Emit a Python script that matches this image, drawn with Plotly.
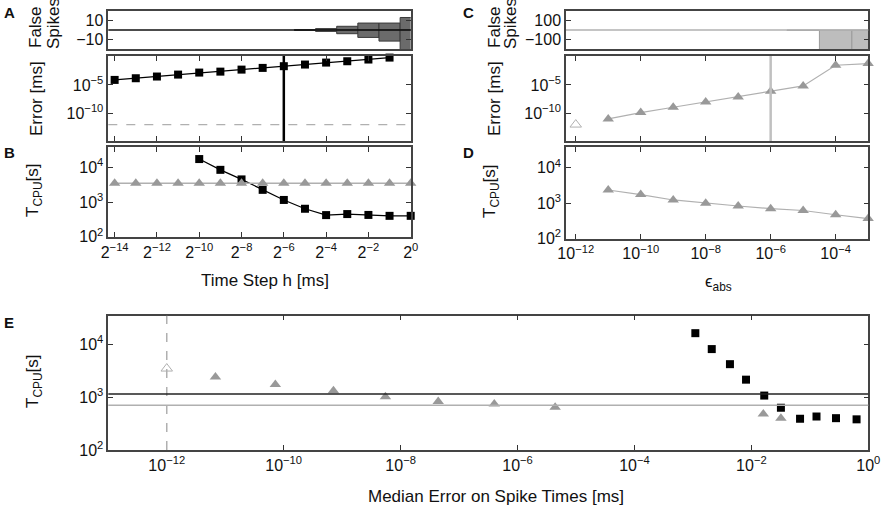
import numpy as np
import plotly.graph_objects as go

W, H = 882, 507
FONT = "Liberation Sans, Arial, sans-serif"
BLACK = "#000000"
GRAY = "#999999"
LGRAY = "#b0b0b0"

# ---- data ----
# A (top): false spikes per bin, bins centred on h = 2^k ms
fs_h_A = [2**-5, 2**-4, 2**-3, 2**-2, 2**-1, 2**0]
fs_extra_A = [0.5, 1.5, 4, 7.5, 7.5, 13.5]
fs_missing_A = [-0.5, -1.5, -4, -8, -12, -25]

# A: error vs time step (fixed step)
h_err = [2**-14, 2**-13, 2**-12, 2**-11, 2**-10, 2**-9, 2**-8,
         2**-7, 2**-6, 2**-5, 2**-4, 2**-3, 2**-2, 2**-1]
err_fixed = [7.6e-5, 1.5e-4, 3.0e-4, 6.6e-4, 1.5e-3, 2.2e-3, 5.0e-3,
             1.0e-2, 2.0e-2, 3.9e-2, 8.7e-2, 0.15, 0.30, 0.66]
h_chosen = 2**-6
err_floor = 1e-12

# B: CPU time vs time step
h_cpu = [2**-10, 2**-9, 2**-8, 2**-7, 2**-6, 2**-5, 2**-4,
         2**-3, 2**-2, 2**-1, 2**0]
tcpu_fixed = [17400, 8500, 4500, 2250, 1150, 640, 420, 450, 425, 400, 400]
h_all = [2**-14, 2**-13, 2**-12, 2**-11, 2**-10, 2**-9, 2**-8, 2**-7,
         2**-6, 2**-5, 2**-4, 2**-3, 2**-2, 2**-1, 2**0]
tcpu_event = [3500, 3500, 3500, 3500, 3500, 3500, 3500, 3500,
              3500, 3500, 3500, 3500, 3500, 3500, 3500]

# C (top): false spikes per decade bin of eps_abs
fs_eps_C = [1e-5, 1e-4, 1e-3]
fs_missing_C = [-4, -300, -300]

# C: error vs eps_abs (adaptive)
eps = [1e-11, 1e-10, 1e-9, 1e-8, 1e-7, 1e-6, 1e-5, 1e-4, 1e-3]
err_adapt = [1.0e-11, 1.3e-10, 1.15e-9, 1.0e-8, 7.6e-8, 7.6e-7, 6.6e-6,
             2.95e-2, 5.75e-2]
eps_chosen = 1e-6
eps_event = 1e-12
err_event = 1e-12

# D: CPU time vs eps_abs
tcpu_adapt = [2350, 1750, 1230, 1000, 830, 700, 620, 470, 365]

# E: CPU time vs median error
e_err_fixed = [1.1e-3, 2.1e-3, 4.3e-3, 8.1e-3, 1.66e-2, 3.2e-2, 6.8e-2,
               0.13, 0.28, 0.63]
e_tcpu_fixed = [16200, 8100, 4200, 2140, 1070, 630, 390, 430, 400, 380]
e_err_adapt = [6.8e-12, 7.2e-11, 7.1e-10, 5.5e-9, 4.4e-8, 4.0e-7, 4.4e-6,
               1.6e-2, 3.2e-2]
e_tcpu_adapt = [2400, 1740, 1320, 1020, 830, 740, 645, 480, 400]
e_err_event = 1e-12
e_tcpu_event = 3470
e_ref_fixed = tcpu_fixed[h_cpu.index(h_chosen)]
e_ref_adapt = tcpu_adapt[eps.index(eps_chosen)]

pow2_ticks = [2**-14, 2**-12, 2**-10, 2**-8, 2**-6, 2**-4, 2**-2, 2**0]
pow2_text = ["2<sup>\u221214</sup>", "2<sup>\u221212</sup>", "2<sup>\u221210</sup>",
             "2<sup>\u22128</sup>", "2<sup>\u22126</sup>", "2<sup>\u22124</sup>",
             "2<sup>\u22122</sup>", "2<sup>0</sup>"]
eps_ticks = [1e-12, 1e-10, 1e-8, 1e-6, 1e-4]
eps_text = ["10<sup>\u221212</sup>", "10<sup>\u221210</sup>", "10<sup>\u22128</sup>",
            "10<sup>\u22126</sup>", "10<sup>\u22124</sup>"]
e_ticks = [1e-12, 1e-10, 1e-8, 1e-6, 1e-4, 1e-2, 1e0]
e_text = ["10<sup>\u221212</sup>", "10<sup>\u221210</sup>", "10<sup>\u22128</sup>",
          "10<sup>\u22126</sup>", "10<sup>\u22124</sup>", "10<sup>\u22122</sup>",
          "10<sup>0</sup>"]
err_ticks = [1e-10, 1e-5]
err_text = ["10<sup>\u221210</sup>", "10<sup>\u22125</sup>"]
t_ticks = [1e2, 1e3, 1e4]
t_text = ["10<sup>2</sup>", "10<sup>3</sup>", "10<sup>4</sup>"]


def dx(a, b):
    return [a / W, b / W]


def dy(top, bottom):
    return [1 - bottom / H, 1 - top / H]


def axis(**kw):
    base = dict(showline=True, linecolor="#444", linewidth=1.5, mirror="ticks",
                ticks="inside", ticklen=5, tickwidth=1.2, tickcolor="#333",
                showgrid=False, zeroline=False, automargin=False,
                tickfont=dict(size=16, color="#111", family=FONT))
    base.update(kw)
    return base


fig = go.Figure()

# ---- A top: false spikes histogram ----
fig.add_trace(go.Bar(x=np.log2(fs_h_A), y=fs_extra_A, width=1, xaxis="x", yaxis="y",
                     marker=dict(color="#6b6b6b", line=dict(color="#3a3a3a", width=1))))
fig.add_trace(go.Bar(x=np.log2(fs_h_A), y=fs_missing_A, width=1, xaxis="x", yaxis="y",
                     marker=dict(color="#6b6b6b", line=dict(color="#3a3a3a", width=1))))

# ---- A: error ----
fig.add_trace(go.Scatter(x=h_err, y=err_fixed, xaxis="x2", yaxis="y2", mode="lines+markers",
                         line=dict(color=BLACK, width=1.2),
                         marker=dict(symbol="square", size=8, color=BLACK), cliponaxis=False))

# ---- B: CPU time ----
fig.add_trace(go.Scatter(x=h_cpu, y=tcpu_fixed, xaxis="x3", yaxis="y3", mode="lines+markers",
                         line=dict(color=BLACK, width=1.2),
                         marker=dict(symbol="square", size=8, color=BLACK), cliponaxis=False))
fig.add_trace(go.Scatter(x=h_all, y=tcpu_event, xaxis="x3", yaxis="y3", mode="lines+markers",
                         line=dict(color=LGRAY, width=1.5),
                         marker=dict(symbol="triangle-up", size=10, color=GRAY), cliponaxis=False))

# ---- C top ----
fig.add_trace(go.Bar(x=np.log10(fs_eps_C), y=fs_missing_C, width=1, xaxis="x4", yaxis="y4",
                     marker=dict(color="#bdbdbd", line=dict(color="#9a9a9a", width=1))))

# ---- C: error ----
fig.add_trace(go.Scatter(x=eps, y=err_adapt, xaxis="x5", yaxis="y5", mode="lines+markers",
                         line=dict(color=LGRAY, width=1.2),
                         marker=dict(symbol="triangle-up", size=10, color=GRAY), cliponaxis=False))
fig.add_trace(go.Scatter(x=[eps_event], y=[err_event], xaxis="x5", yaxis="y5", mode="markers",
                         marker=dict(symbol="triangle-up-open", size=10, color=LGRAY,
                                     line=dict(width=1)), cliponaxis=False))

# ---- D: CPU time ----
fig.add_trace(go.Scatter(x=eps, y=tcpu_adapt, xaxis="x6", yaxis="y6", mode="lines+markers",
                         line=dict(color=LGRAY, width=1.2),
                         marker=dict(symbol="triangle-up", size=10, color=GRAY), cliponaxis=False))

# ---- E ----
fig.add_trace(go.Scatter(x=e_err_fixed, y=e_tcpu_fixed, xaxis="x7", yaxis="y7", mode="markers",
                         marker=dict(symbol="square", size=8, color=BLACK), cliponaxis=False))
fig.add_trace(go.Scatter(x=e_err_adapt, y=e_tcpu_adapt, xaxis="x7", yaxis="y7", mode="markers",
                         marker=dict(symbol="triangle-up", size=10, color=GRAY), cliponaxis=False))
fig.add_trace(go.Scatter(x=[e_err_event], y=[e_tcpu_event], xaxis="x7", yaxis="y7", mode="markers",
                         marker=dict(symbol="triangle-up-open", size=10, color=LGRAY,
                                     line=dict(width=1)), cliponaxis=False))

shapes = [
    dict(type="line", xref="x domain", yref="y", x0=0, x1=1, y0=0, y1=0,
         line=dict(color="#111", width=1.5)),
    dict(type="line", xref="x2 domain", yref="y2", x0=0, x1=1, y0=err_floor, y1=err_floor,
         line=dict(color=LGRAY, width=1.2, dash="dash")),
    dict(type="line", xref="x2", yref="y2 domain", x0=h_chosen, x1=h_chosen, y0=0, y1=1,
         line=dict(color=BLACK, width=2.5)),
    dict(type="line", xref="x4 domain", yref="y4", x0=0, x1=1, y0=0, y1=0,
         line=dict(color=LGRAY, width=1.5)),
    dict(type="line", xref="x5", yref="y5 domain", x0=eps_chosen, x1=eps_chosen, y0=0, y1=1,
         line=dict(color="#c0c0c0", width=2.5)),
    dict(type="line", xref="x7", yref="y7 domain", x0=e_err_event, x1=e_err_event, y0=0, y1=1,
         line=dict(color=LGRAY, width=1.5, dash="dash")),
    dict(type="line", xref="x7 domain", yref="y7", x0=0, x1=1, y0=e_ref_fixed, y1=e_ref_fixed,
         line=dict(color="#222", width=1.5)),
    dict(type="line", xref="x7 domain", yref="y7", x0=0, x1=1, y0=e_ref_adapt, y1=e_ref_adapt,
         line=dict(color=LGRAY, width=1.5)),
]

XA = dx(108.3, 410.7)
XC = dx(566, 868.3)
C_RANGE = [-12.3, -2.995]

fig.update_layout(
    width=W, height=H, margin=dict(l=0, r=0, t=0, b=0, autoexpand=False),
    paper_bgcolor="white", plot_bgcolor="white", showlegend=False,
    barmode="overlay", font=dict(family=FONT, size=16, color="#111"),
    shapes=shapes,
    # A top
    xaxis=axis(domain=XA, range=[-14.3, 0], ticks="", showticklabels=False,
               mirror=True, anchor="y"),
    yaxis=axis(domain=dy(11, 49), range=[-20.5, 20.5], tickvals=[-10, 10],
               ticktext=["\u221210", "10"], anchor="x"),
    # A error
    xaxis2=axis(domain=XA, type="log", range=[np.log10(2**-14.3), 0], tickvals=pow2_ticks,
                showticklabels=False, anchor="y2"),
    yaxis2=axis(domain=dy(56, 141), type="log", range=[-14.9, 0.1], tickvals=err_ticks,
                ticktext=err_text, anchor="x2"),
    # B
    xaxis3=axis(domain=XA, type="log", range=[np.log10(2**-14.3), 0], tickvals=pow2_ticks,
                ticktext=pow2_text, anchor="y3"),
    yaxis3=axis(domain=dy(147.3, 236.7), type="log", range=[2, 4.58], tickvals=t_ticks,
                ticktext=t_text, anchor="x3"),
    # C top
    xaxis4=axis(domain=XC, range=C_RANGE, ticks="", showticklabels=False,
                mirror=True, anchor="y4"),
    yaxis4=axis(domain=dy(11, 49), range=[-205, 205], tickvals=[-100, 100],
                ticktext=["\u2212100", "100"], anchor="x4"),
    # C error
    xaxis5=axis(domain=XC, type="log", range=C_RANGE, tickvals=eps_ticks,
                showticklabels=False, anchor="y5"),
    yaxis5=axis(domain=dy(56, 141), type="log", range=[-14.9, 0.1], tickvals=err_ticks,
                ticktext=err_text, anchor="x5"),
    # D
    xaxis6=axis(domain=XC, type="log", range=C_RANGE, tickvals=eps_ticks,
                ticktext=eps_text, anchor="y6"),
    yaxis6=axis(domain=dy(147.3, 238.5), type="log", range=[2, 4.58], tickvals=t_ticks,
                ticktext=t_text, anchor="x6"),
    # E
    xaxis7=axis(domain=dx(108.3, 868.3), type="log", range=[-13, 0], tickvals=e_ticks,
                ticktext=e_text, anchor="y7"),
    yaxis7=axis(domain=dy(315.7, 450), type="log", range=[2, 4.54], tickvals=t_ticks,
                ticktext=t_text, anchor="x7"),
)


def label(text, x, y, size=17, angle=0, bold=False):
    if bold:
        text = "<b>" + text + "</b>"
    fig.add_annotation(text=text, x=x / W, y=1 - y / H, xref="paper", yref="paper",
                       showarrow=False, textangle=angle, xanchor="center", yanchor="middle",
                       font=dict(size=size, family=FONT, color="#111"))


# panel letters
label("A", 9, 12, size=15, bold=True)
label("B", 9, 152, size=15, bold=True)
label("C", 468, 12, size=15, bold=True)
label("D", 468, 152, size=15, bold=True)
label("E", 9, 322, size=15, bold=True)

# axis titles
label("False", 35, 27, angle=-90)
label("Spikes", 53, 24, angle=-90)
label("Error [ms]", 36, 99, angle=-90)
label("T<sub>CPU</sub>[s]", 34, 191, angle=-90)
label("False", 494, 27, angle=-90)
label("Spikes", 510, 24, angle=-90)
label("Error [ms]", 494, 99, angle=-90)
label("T<sub>CPU</sub>[s]", 491, 192, angle=-90)
label("T<sub>CPU</sub>[s]", 34, 382, angle=-90)
label("Time Step h [ms]", 265, 280)
label("\u03f5<sub>abs</sub>", 718, 283)
label("Median Error on Spike Times [ms]", 496, 496)

fig.write_html("out.html", config={"displayModeBar": False},
               post_script="document.body.style.margin = '0px';")
